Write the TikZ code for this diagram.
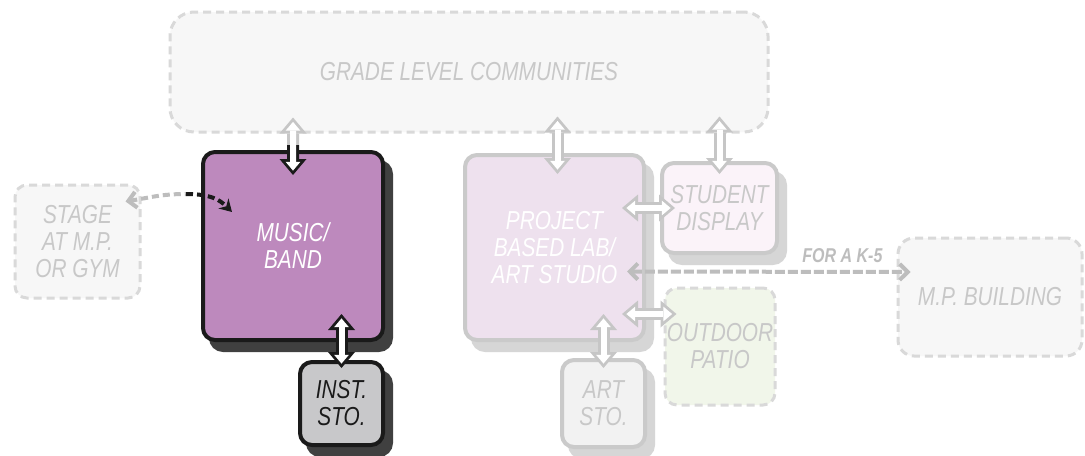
\documentclass[tikz,border=0pt]{standalone}
\usepackage{fontspec}
\newfontfamily\labelfont[FakeStretch=0.8]{Liberation Sans}
\usetikzlibrary{calc,arrows.meta,shadows}

\definecolor{palegray}{HTML}{F7F7F7}
\definecolor{dashgray}{HTML}{D9D9D9}
\definecolor{fainttext}{HTML}{C8C8C8}
\definecolor{musicfill}{HTML}{BD89BD}
\definecolor{musicline}{HTML}{1A1A1A}
\definecolor{musicshadow}{HTML}{404040}
\definecolor{instfill}{HTML}{C8C8CA}
\definecolor{projfill}{HTML}{EEE1EE}
\definecolor{paleline}{HTML}{CACACA}
\definecolor{paleshadow}{HTML}{D6D6D6}
\definecolor{studfill}{HTML}{FBF3F9}
\definecolor{patiofill}{HTML}{F1F6EA}
\definecolor{artfill}{HTML}{F2F2F2}
\definecolor{arrowgray}{HTML}{C6C6C6}
\definecolor{linkgray}{HTML}{BDBDBD}

\begin{document}
\begin{tikzpicture}[x=0.5pt, y=-0.5pt,
	outtip/.tip={Triangle[width=13.5pt, length=8pt, line width=0pt]},
	intip/.tip={Triangle[width=7.4pt, length=4.4pt, line width=0pt]},
	room/.style={rounded corners=6pt, align=center, inner sep=0pt, text=fainttext,
		font=\labelfont\itshape\fontsize{13}{13.5}\selectfont},
	solidroom/.style={room, line width=2pt,
		general shadow={fill=#1, draw=#1, shadow xshift=4pt, shadow yshift=-5pt}},
	openroom/.style={room, draw=dashgray, fill=palegray, line width=1.5pt, dash pattern=on 4pt off 2.5pt},
	twoway/.style={draw=#1, line width=6pt, {outtip}-{outtip},
		postaction={draw=white, line width=3pt, shorten <=2.2pt, shorten >=2.2pt, {intip}-{intip}}},
	oneway/.style={draw=#1, line width=6pt, -{outtip},
		postaction={draw=white, line width=3pt, shorten >=2.2pt, -{intip}}},
	stagelink/.style={line width=2pt, dash pattern=on 3.5pt off 2pt},
	mplink/.style={line width=2pt, draw=linkgray, dash pattern=on 5pt off 1.5pt},
	]

	\useasboundingbox[fill=white] (0,0) rectangle (1085,455);

	\node[openroom, rounded corners=12pt, minimum width=299pt, minimum height=60pt] (glc) at (469,72) {GRADE LEVEL COMMUNITIES};
	\node[openroom, minimum width=62.5pt, minimum height=56.5pt] (stage) at (77.5,241.5) {STAGE\\AT M.P.\\OR GYM};
	\node[openroom, rounded corners=8pt, minimum width=92pt, minimum height=59pt] (mpb) at (990,297) {M.P. BUILDING};
	\node[openroom, fill=patiofill, minimum width=55pt, minimum height=58.5pt] (patio) at (720,346.5) {OUTDOOR\\PATIO};

	\node[solidroom=musicshadow, draw=musicline, fill=musicfill, text=white,
		minimum width=90pt, minimum height=94pt] (music) at (293,246) {MUSIC/\\BAND};
	\node[solidroom=musicshadow, draw=musicline, fill=instfill, text=musicline,
		minimum width=41.5pt, minimum height=41.5pt] (inst) at (341.5,403.5) {INST.\\STO.};
	\node[solidroom=paleshadow, draw=paleline, fill=artfill,
		minimum width=41.5pt, minimum height=43.5pt] (artsto) at (603.5,403.5) {ART\\STO.};
	\node[solidroom=paleshadow, draw=paleline, fill=projfill, text=white,
		minimum width=89.5pt, minimum height=92.5pt] (proj) at (554.5,247.5) {PROJECT\\BASED LAB/\\ART STUDIO};
	\node[solidroom=paleshadow, draw=paleline, fill=studfill,
		minimum width=57.5pt, minimum height=45pt] (stud) at (719.5,208) {STUDENT\\DISPLAY};

	\coordinate (mgap) at ($(music.north |- glc.south)!0.7!(music.north)$);
	\draw[oneway=arrowgray] (mgap) -- ($(music.north |- glc.south)+(0,-16)$);
	\draw[oneway=musicline] (mgap) -- ($(music.north)+(0,25)$);
	\draw[twoway=musicline] ($(inst.north)+(0,8)$) -- ($(inst.north |- music.south)+(0,-28)$);

	\draw[twoway=arrowgray] ($(proj.north |- glc.south)+(3,-17)$) -- ($(proj.north)+(3,21)$);
	\draw[twoway=arrowgray] ($(stud.north |- glc.south)+(0,-17)$) -- ($(stud.north)+(0,13)$);
	\draw[twoway=arrowgray] ($(proj.east |- stud.west)+(-24,0)$) -- ($(stud.west)+(15,0)$);
	\draw[twoway=arrowgray] ($(proj.south east)+(-24,-28)$) -- ($(proj.south east -| patio.west)+(13,-28)$);
	\draw[twoway=arrowgray] ($(artsto.north)+(0,10)$) -- ($(artsto.north |- proj.south)+(0,-28)$);

	\coordinate (sbend) at ($(music.north west)+(-15,44)$);
	\draw[stagelink, linkgray, {Straight Barb[length=4pt, width=8pt]}-] ($(stage.north east)+(-16,18)$) .. controls +(25,-4) and +(-25,0) .. (sbend);
	\draw[stagelink, musicline, -{Stealth[length=6pt, width=7pt]}] (sbend) .. controls +(25,0) and +(-12,-12) .. ($(music.north west)+(31,62)$);

	\draw[mplink, {Straight Barb[length=4pt, width=8pt]}-{Straight Barb[length=4pt, width=8pt]}] ($(proj.east)+(-19,24)$) -- node[pos=0.76, above=2.5pt, inner sep=1pt, text=linkgray,
		font=\labelfont\bfseries\itshape\fontsize{10}{10}\selectfont] (k5) {FOR A K-5} ($(mpb.west)+(14,-25)$);

\end{tikzpicture}
\end{document}
